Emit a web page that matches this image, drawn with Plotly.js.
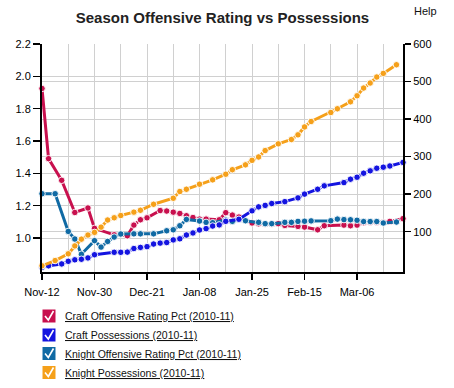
<!DOCTYPE html>
<html>
<head>
<meta charset="utf-8">
<script src="https://cdn.plot.ly/plotly-3.0.1.min.js"></script>
<style>
html,body{margin:0;padding:0;background:#fff;}
#chart{width:454px;height:388px;}
</style>
</head>
<body>
<div id="chart"></div>
<script>
// x categories are game indices; tick labels every 8th game
var tickLabels = ['Nov-12','Nov-30','Dec-21','Jan-08','Jan-25','Feb-15','Mar-06'];
var nGames = 56;

var seriesNames = [
  'Craft Offensive Rating Pct (2010-11)',
  'Craft Possessions (2010-11)',
  'Knight Offensive Rating Pct (2010-11)',
  'Knight Possessions (2010-11)'
];
var seriesColors = ['#c8104e', '#1414e0', '#106aa4', '#f5a01a'];

var craftOrtg = [1.925,1.491,null,1.357,null,1.158,null,1.186,1.060,null,
  null,1.020,null,1.014,1.080,1.113,1.125,null,1.170,1.167,
  1.160,1.152,1.138,1.127,1.117,1.117,null,1.113,1.157,1.142,
  1.130,null,1.093,1.088,1.087,1.087,1.089,1.078,null,1.072,
  1.068,null,1.051,1.076,null,null,1.080,1.076,1.080,1.095,
  1.098,1.098,1.096,1.103,null,1.120];

var craftPoss = [5,9,null,14,21,25,26.5,30,38.5,null,
  null,45,45,45.5,55,58,60,67,69.5,71,
  78,81,91,96.5,104.5,108,115,118,127.5,null,
  133,null,155.5,166,170,175,null,180,null,190,
  200,null,213,222,null,null,230.7,239.8,245,255.8,
  262,269,271.8,275,null,284.5];

var knightOrtg = [1.274,null,1.274,null,1.041,0.994,0.900,null,0.984,0.944,
  0.979,1.006,1.025,null,1.026,1.026,null,1.026,null,1.045,
  1.051,1.076,1.115,null,1.105,1.097,1.095,null,1.111,1.103,
  1.113,1.107,null,1.097,1.089,1.089,null,1.097,1.097,1.103,
  1.104,1.106,null,null,1.107,1.117,1.114,1.113,1.110,1.102,
  1.102,1.102,1.093,null,1.099,null];

var knightPoss = [9,null,23,null,41,62,80,91,98,112,
  131,137,143,null,152,157,null,173,null,null,
  189,207,213,null,226.5,null,238,null,253,265,
  null,278,290,299,316,null,334,null,345.5,358,
  379,393.5,null,null,417.5,427.4,null,446,462,482.6,
  496,512,521.7,null,544.7,null];

var leftTicks = [1.0,1.2,1.4,1.6,1.8,2.0,2.2];
var rightTicks = [100,200,300,400,500,600];

var xs = [];
for (var i = 0; i < nGames; i++) xs.push(i);
var tickVals = [];
for (var k = 0; k < tickLabels.length; k++) tickVals.push(k * 8);

var allData = [craftOrtg, craftPoss, knightOrtg, knightPoss];
var axes = ['y', 'y2', 'y', 'y2'];
var traces = allData.map(function(d, j){
  return {
    x: xs, y: d, yaxis: axes[j], name: seriesNames[j],
    type: 'scatter', mode: 'lines+markers', connectgaps: true, cliponaxis: false,
    line: {color: seriesColors[j], width: 3},
    marker: {color: seriesColors[j], size: 6.5, line: {color: 'rgba(255,255,255,0.9)', width: 1}},
    showlegend: false, hoverinfo: 'skip'
  };
});

// plot area geometry (pixels) for the custom legend
var L = 42, R = 403, T = 44, B = 272;
function px(x){ return (x - L) / (R - L); }
function py(y){ return (B - y) / (B - T); }

var shapes = [];
var annotations = [];
var rowY = [316, 335, 353.5, 372.5];
seriesNames.forEach(function(n, j){
  var cy = rowY[j];
  shapes.push({type:'rect', xref:'paper', yref:'paper',
    x0: px(42.5), x1: px(55.5), y0: py(cy + 6.5), y1: py(cy - 6.5),
    fillcolor: seriesColors[j], line: {width: 0}});
  shapes.push({type:'path', xref:'paper', yref:'paper',
    path: 'M ' + px(45) + ' ' + py(cy) + ' L ' + px(48.3) + ' ' + py(cy + 4) + ' L ' + px(53.5) + ' ' + py(cy - 5),
    line: {color: '#ffffff', width: 1.6}});
  annotations.push({xref:'paper', yref:'paper', x: px(63), y: py(cy),
    xanchor:'left', yanchor:'middle', showarrow:false,
    text: '<u>' + n + '</u>',
    font: {family: 'Liberation Sans, Arial, sans-serif', size: 10.5, color: '#111'}});
});
annotations.push({xref:'paper', yref:'paper', x: px(425), y: py(11),
  xanchor:'center', yanchor:'middle', showarrow:false, text:'Help',
  font: {family: 'Liberation Sans, Arial, sans-serif', size: 11, color: '#111'}});

var grid = '#d0d0d0';
var tickFont = {family: 'Liberation Sans, Arial, sans-serif', size: 11, color: '#000'};
var layout = {
  width: 454, height: 388,
  margin: {l: L, r: 454 - R, t: T, b: 388 - B, pad: 0},
  paper_bgcolor: '#fff', plot_bgcolor: '#fff',
  title: {text: 'Season Offensive Rating vs Possessions', x: 0.5, xref: 'paper', xanchor: 'center',
    y: 1 - 18 / 388, yref: 'container', yanchor: 'middle',
    font: {family: 'Liberation Sans, Arial, sans-serif', size: 15, color: '#222', weight: 'bold'}},
  xaxis: {range: [0, nGames - 1], tickmode: 'array', tickvals: tickVals, ticktext: tickLabels,
    ticks: 'outside', ticklen: 6, tickwidth: 1.5, tickcolor: '#000', ticklabelstandoff: 3,
    showline: true, linewidth: 2, linecolor: '#000', showgrid: true, gridcolor: grid, gridwidth: 1,
    zeroline: false, tickfont: tickFont,
    minor: {tickmode: 'linear', tick0: 0, dtick: 4, showgrid: true, gridcolor: grid, gridwidth: 1, ticks: ''}},
  yaxis: {range: [0.79, 2.2], tickmode: 'array', tickvals: leftTicks, tickformat: '.1f',
    ticks: 'outside', ticklen: 7, tickwidth: 1.5, tickcolor: '#000',
    showline: true, linewidth: 2, linecolor: '#000', showgrid: true, gridcolor: grid, gridwidth: 1,
    zeroline: false, tickfont: tickFont},
  yaxis2: {range: [-7.5, 600], overlaying: 'y', side: 'right', tickmode: 'array', tickvals: rightTicks,
    ticks: 'outside', ticklen: 6, tickwidth: 1.5, tickcolor: '#000',
    showline: true, linewidth: 2, linecolor: '#000', showgrid: true, gridcolor: grid, gridwidth: 1,
    zeroline: false, tickfont: tickFont},
  shapes: shapes,
  annotations: annotations,
  showlegend: false
};

Plotly.newPlot('chart', traces, layout, {staticPlot: true, displayModeBar: false});
</script>
</body>
</html>
